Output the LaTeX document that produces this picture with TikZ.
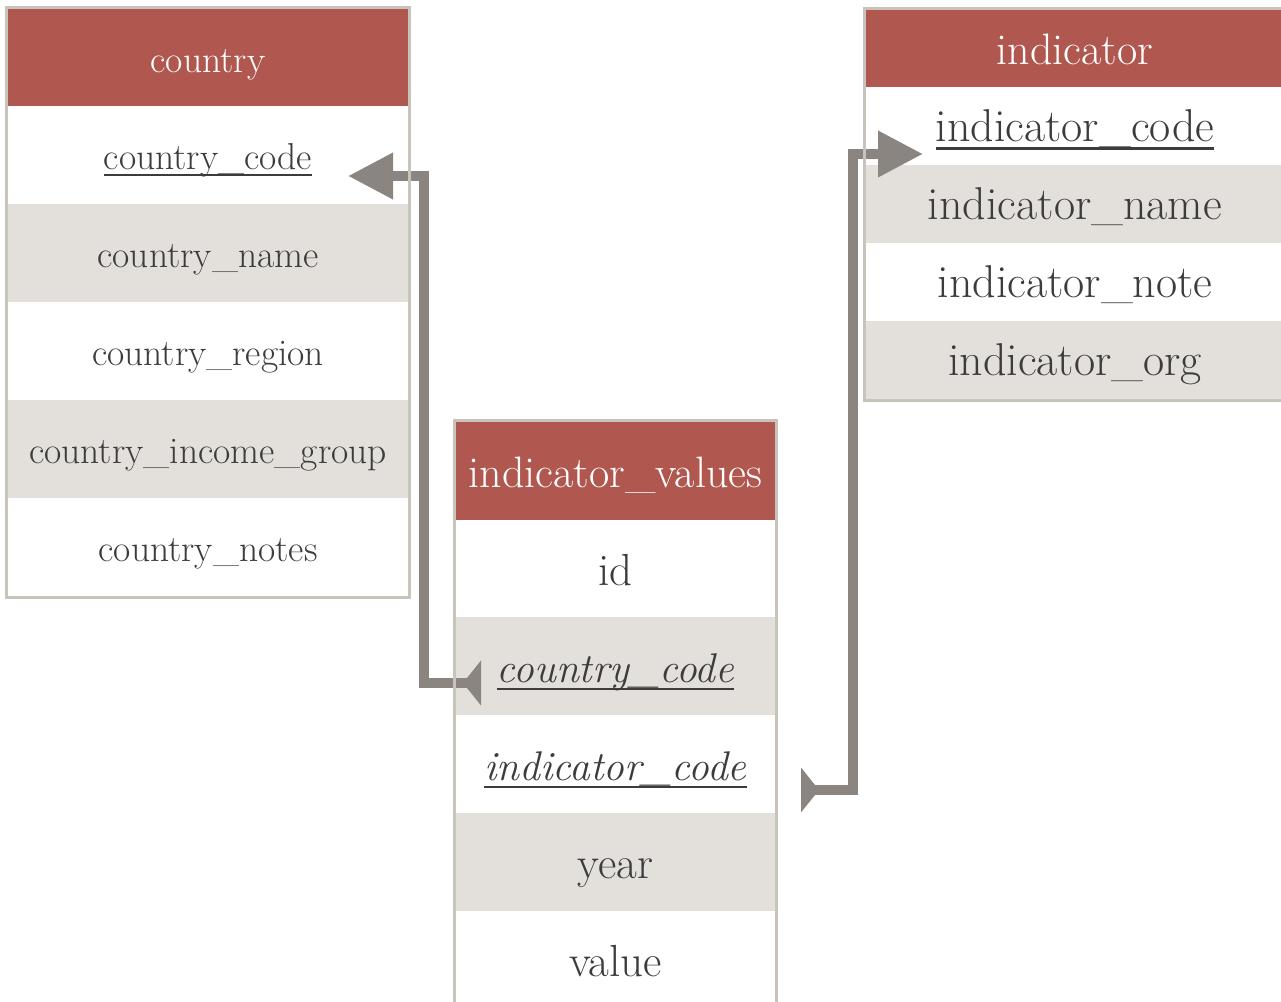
\documentclass[tikz,border=0pt]{standalone}
\usepackage{fontspec}
\usetikzlibrary{arrows.meta,fit}
\definecolor{tbl_red}{RGB}{176, 87, 79}
\definecolor{tbl_grey}{RGB}{227, 224, 219}
\definecolor{tbl_line}{RGB}{200, 195, 187}
\definecolor{fk_grey}{RGB}{138, 133, 128}
\definecolor{txt_dark}{RGB}{60, 60, 60}
\newcommand{\keyul}[1]{\setbox0=\hbox{#1}\rlap{\vrule height -0.13em depth 0.18em width \wd0}\box0}
\tikzstyle{cell}=[rectangle,inner sep=0pt,text=txt_dark]
\tikzstyle{hd}=[cell,fill=tbl_red,text=white]
\tikzstyle{wr}=[cell,fill=white]
\tikzstyle{gr}=[cell,fill=tbl_grey]
\tikzstyle{ct}=[minimum width=400pt,minimum height=98pt,
  font=\fontsize{37.5}{42}\selectfont,text height=32pt,text depth=3pt]
\tikzstyle{vt}=[minimum width=319pt,minimum height=98pt,
  font=\fontsize{45}{50}\selectfont,text height=37pt,text depth=4pt]
\tikzstyle{it}=[minimum width=418pt,minimum height=78pt,
  font=\fontsize{46}{50}\selectfont,text height=35pt,text depth=4pt]
\tikzstyle{fkrow}=[font=\fontsize{41.5}{46}\selectfont\itshape]
\tikzstyle{frame}=[draw=tbl_line,line width=2.5pt,inner sep=1.5pt]
\tikzstyle{fk}=[draw=fk_grey,line width=10pt,
  arrows={Triangle[reversed,length=18pt,width=44pt]-Triangle[length=45pt,width=44pt]}]
\tikzstyle{none}=[]
\begin{document}
\begin{tikzpicture}[x=1pt,y=-1pt]
            \useasboundingbox (0, 0) rectangle (1281, 1001);
            \node [style=hd, style=ct, minimum height=97pt] (0) at (208, 57.5) {country};
            \node [style=wr, style=ct] (1) at (208, 155) {\keyul{country\_code}};
            \node [style=gr, style=ct] (2) at (208, 253) {country\_name};
            \node [style=wr, style=ct] (3) at (208, 351) {country\_region};
            \node [style=gr, style=ct] (4) at (208, 449) {country\_income\_group};
            \node [style=wr, style=ct] (5) at (208, 547) {country\_notes};
            \node [style=hd, style=vt, font=\fontsize{44}{48}\selectfont] (6) at (615.5, 471) {indicator\_values};
            \node [style=wr, style=vt] (7) at (615.5, 568.5) {id};
            \node [style=gr, style=vt, style=fkrow] (8) at (615.5, 666) {\keyul{country\_code}};
            \node [style=wr, style=vt, style=fkrow] (9) at (615.5, 764) {\keyul{indicator\_code}};
            \node [style=gr, style=vt] (10) at (615.5, 862) {year};
            \node [style=wr, style=vt] (11) at (615.5, 960) {value};
            \node [style=hd, style=it, minimum height=77pt, font=\fontsize{44}{48}\selectfont] (12) at (1075, 48.5) {indicator};
            \node [style=wr, style=it] (13) at (1075, 126) {\keyul{indicator\_code}};
            \node [style=gr, style=it] (14) at (1075, 204) {indicator\_name};
            \node [style=wr, style=it] (15) at (1075, 282) {indicator\_note};
            \node [style=gr, style=it] (16) at (1075, 360) {indicator\_org};
            \node [style=none] (17) at (481, 683) {};
            \node [style=none] (18) at (424, 683) {};
            \node [style=none] (19) at (348, 176) {};
            \node [style=none] (20) at (801, 790) {};
            \node [style=none] (21) at (853, 790) {};
            \node [style=none] (22) at (923, 154) {};
            \draw [style=fk] (17.center) -- (18.center) |- (19.center);
            \draw [style=fk] (20.center) -- (21.center) |- (22.center);
            \node [style=frame, fit=(0)(5)] (23) {};
            \node [style=frame, fit=(6)(11)] (24) {};
            \node [style=frame, fit=(12)(16)] (25) {};
    \end{tikzpicture}
\end{document}
